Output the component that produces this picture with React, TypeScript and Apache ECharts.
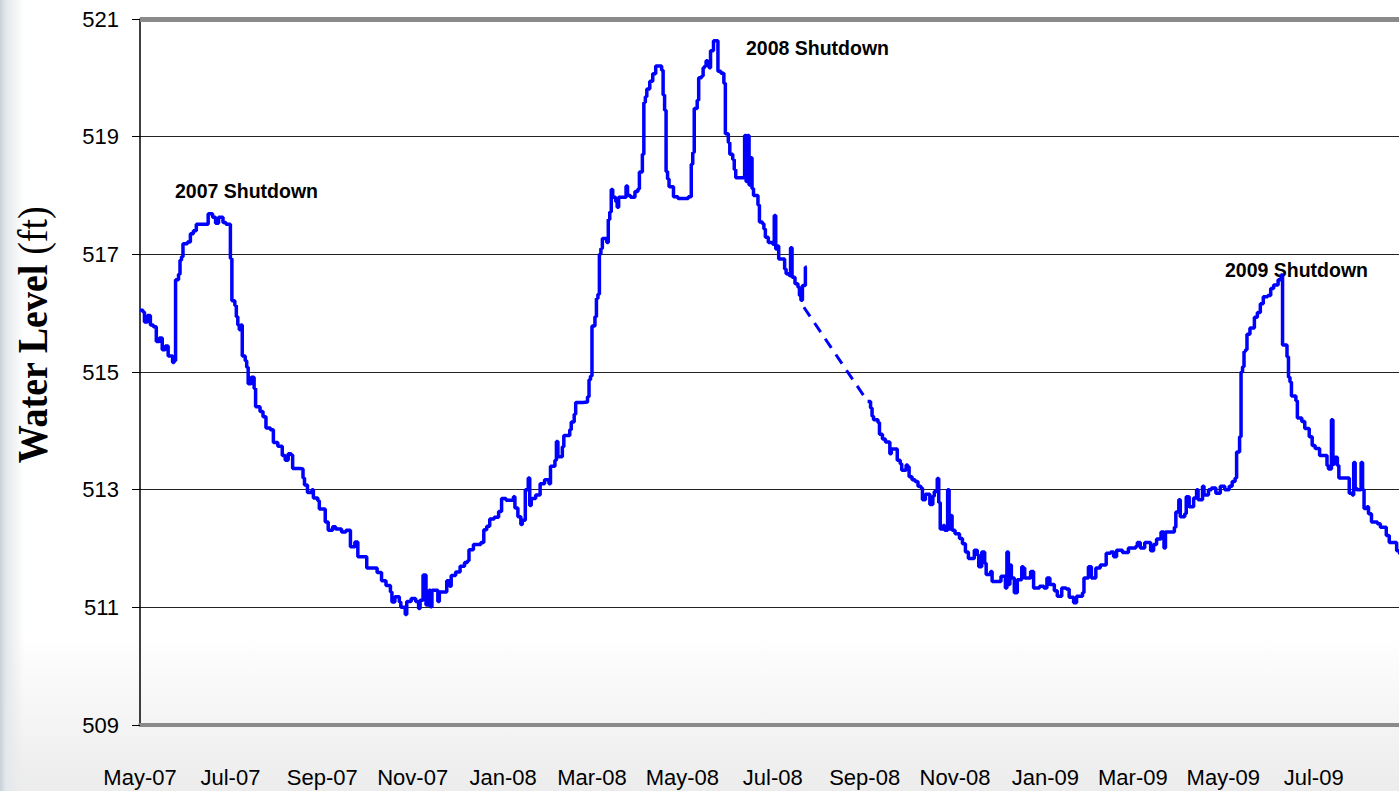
import React, { useEffect, useRef } from 'react';
import * as echarts from 'echarts';

// Water level readings (ft)
const dates: string[] = [
  '2007-05-01','2007-05-03','2007-05-04','2007-05-06','2007-05-08','2007-05-10','2007-05-12','2007-05-14','2007-05-16','2007-05-18',
  '2007-05-20','2007-05-23','2007-05-24','2007-05-25','2007-05-27','2007-05-28','2007-05-29','2007-05-30','2007-06-02','2007-06-04',
  '2007-06-06','2007-06-08','2007-06-15','2007-06-16','2007-06-19','2007-06-21','2007-06-23','2007-06-26','2007-06-28','2007-07-01',
  '2007-07-02','2007-07-04','2007-07-05','2007-07-06','2007-07-07','2007-07-08','2007-07-09','2007-07-11','2007-07-12','2007-07-13',
  '2007-07-15','2007-07-17','2007-07-18','2007-07-21','2007-07-23','2007-07-25','2007-07-28','2007-07-30','2007-08-02','2007-08-05',
  '2007-08-07','2007-08-09','2007-08-11','2007-08-12','2007-08-17','2007-08-19','2007-08-20','2007-08-22','2007-08-25','2007-08-26',
  '2007-08-29','2007-08-30','2007-09-02','2007-09-03','2007-09-05','2007-09-08','2007-09-10','2007-09-14','2007-09-17','2007-09-20',
  '2007-09-23','2007-09-25','2007-09-30','2007-10-01','2007-10-05','2007-10-08','2007-10-11','2007-10-14','2007-10-17','2007-10-18',
  '2007-10-20','2007-10-23','2007-10-24','2007-10-27','2007-10-28','2007-10-31','2007-11-03','2007-11-05','2007-11-06','2007-11-08',
  '2007-11-10','2007-11-12','2007-11-13','2007-11-14','2007-11-18','2007-11-19','2007-11-23','2007-11-24','2007-11-26','2007-11-27',
  '2007-11-30','2007-12-03','2007-12-06','2007-12-08','2007-12-09','2007-12-12','2007-12-17','2007-12-19','2007-12-21','2007-12-23',
  '2007-12-26','2007-12-29','2007-12-31','2008-01-03','2008-01-08','2008-01-09','2008-01-11','2008-01-13','2008-01-14','2008-01-16',
  '2008-01-18','2008-01-19','2008-01-20','2008-01-23','2008-01-26','2008-01-29','2008-02-01','2008-02-02','2008-02-05','2008-02-06',
  '2008-02-07','2008-02-10','2008-02-11','2008-02-15','2008-02-16','2008-02-18','2008-02-19','2008-02-24','2008-02-27','2008-02-28',
  '2008-02-29','2008-03-01','2008-03-03','2008-03-04','2008-03-05','2008-03-06','2008-03-07','2008-03-08','2008-03-11','2008-03-12',
  '2008-03-13','2008-03-14','2008-03-15','2008-03-17','2008-03-18','2008-03-19','2008-03-21','2008-03-24','2008-03-25','2008-03-27',
  '2008-03-30','2008-04-01','2008-04-02','2008-04-04','2008-04-05','2008-04-06','2008-04-07','2008-04-09','2008-04-11','2008-04-13',
  '2008-04-16','2008-04-17','2008-04-18','2008-04-19','2008-04-20','2008-04-21','2008-04-22','2008-04-25','2008-04-28','2008-05-01',
  '2008-05-05','2008-05-06','2008-05-07','2008-05-08','2008-05-09','2008-05-11','2008-05-12','2008-05-14','2008-05-15','2008-05-16',
  '2008-05-17','2008-05-18','2008-05-19','2008-05-20','2008-05-21','2008-05-22','2008-05-24','2008-05-25','2008-05-27','2008-05-29',
  '2008-05-30','2008-06-01','2008-06-02','2008-06-04','2008-06-05','2008-06-06','2008-06-11','2008-06-12','2008-06-13','2008-06-14',
  '2008-06-15','2008-06-16','2008-06-17','2008-06-18','2008-06-21','2008-06-22','2008-06-24','2008-06-25','2008-06-26','2008-06-28',
  '2008-07-01','2008-07-02','2008-07-03','2008-07-04','2008-07-05','2008-07-08','2008-07-09','2008-07-10','2008-07-12','2008-07-13',
  '2008-07-14','2008-07-16','2008-07-18','2008-07-19','2008-07-20','2008-07-21','2008-07-23','2008-07-24',
  '2008-09-03','2008-09-05','2008-09-06','2008-09-07','2008-09-10','2008-09-11','2008-09-13','2008-09-15','2008-09-18','2008-09-19',
  '2008-09-22','2008-09-23','2008-09-25','2008-09-26','2008-09-29','2008-09-30','2008-10-01','2008-10-03','2008-10-05','2008-10-07',
  '2008-10-09','2008-10-10','2008-10-12','2008-10-15','2008-10-17','2008-10-18','2008-10-20','2008-10-21','2008-10-22','2008-10-24',
  '2008-10-25','2008-10-27','2008-10-28','2008-10-29','2008-10-30','2008-11-01','2008-11-04','2008-11-06','2008-11-08','2008-11-10',
  '2008-11-14','2008-11-16','2008-11-17','2008-11-19','2008-11-21','2008-11-22','2008-11-25','2008-11-26','2008-12-01','2008-12-02',
  '2008-12-04','2008-12-05','2008-12-06','2008-12-07','2008-12-08','2008-12-09','2008-12-11','2008-12-13','2008-12-16','2008-12-17',
  '2008-12-18','2008-12-21','2008-12-22','2008-12-24','2008-12-28','2008-12-31','2009-01-02','2009-01-04','2009-01-07','2009-01-09',
  '2009-01-12','2009-01-15','2009-01-17','2009-01-20','2009-01-22','2009-01-26','2009-01-27','2009-01-30','2009-02-01','2009-02-04',
  '2009-02-07','2009-02-11','2009-02-14','2009-02-16','2009-02-18','2009-02-22','2009-02-26','2009-03-03','2009-03-04','2009-03-06',
  '2009-03-09','2009-03-13','2009-03-15','2009-03-17','2009-03-20','2009-03-22','2009-03-23','2009-03-28','2009-03-29','2009-03-30',
  '2009-04-01','2009-04-02','2009-04-05','2009-04-06','2009-04-08','2009-04-11','2009-04-13','2009-04-14','2009-04-17','2009-04-18',
  '2009-04-21','2009-04-23','2009-04-26','2009-04-29','2009-05-02','2009-05-05','2009-05-07','2009-05-09','2009-05-10','2009-05-12',
  '2009-05-13','2009-05-14','2009-05-15','2009-05-16','2009-05-17','2009-05-19','2009-05-22','2009-05-24','2009-05-26','2009-05-28',
  '2009-05-31','2009-06-02','2009-06-04','2009-06-07','2009-06-09','2009-06-10','2009-06-13','2009-06-14','2009-06-15','2009-06-16',
  '2009-06-19','2009-06-20','2009-06-23','2009-06-25','2009-06-28','2009-06-30','2009-07-02','2009-07-05','2009-07-10','2009-07-11',
  '2009-07-13','2009-07-14','2009-07-15','2009-07-17','2009-07-18','2009-07-22','2009-07-25','2009-07-27','2009-07-28','2009-07-29',
  '2009-07-30','2009-08-02','2009-08-03','2009-08-04','2009-08-06','2009-08-07','2009-08-09','2009-08-13','2009-08-15','2009-08-19',
  '2009-08-21','2009-08-26','2009-08-28',
];

const levels: (number | null)[] = [
  516.05,516.02,515.85,515.96,515.80,515.77,515.52,515.58,515.38,515.44,
  515.27,515.16,515.19,516.57,516.66,516.90,516.96,517.18,517.21,517.35,
  517.40,517.51,517.51,517.69,517.63,517.53,517.63,517.54,517.51,516.93,
  516.21,516.13,515.94,515.80,515.72,515.80,515.27,515.19,515.08,514.80,
  514.91,514.72,514.41,514.33,514.24,514.05,514.02,513.80,513.74,513.58,
  513.50,513.61,513.59,513.36,513.35,513.20,513.08,512.95,513.00,512.86,
  512.81,512.67,512.67,512.45,512.31,512.37,512.33,512.28,512.31,512.03,
  512.11,511.86,511.86,511.67,511.67,511.59,511.45,511.37,511.26,511.09,
  511.18,511.09,511.00,510.88,511.10,511.15,511.10,510.98,511.12,511.55,
  511.04,511.29,511.01,511.29,511.10,511.26,511.26,511.45,511.36,511.54,
  511.60,511.70,511.76,511.79,511.98,512.07,512.10,512.32,512.38,512.50,
  512.53,512.63,512.85,512.82,512.88,512.69,512.54,512.41,512.48,513.00,
  513.20,512.73,512.85,512.91,513.10,513.17,513.10,513.40,513.50,513.82,
  513.56,513.73,513.92,514.02,514.15,514.28,514.48,514.49,514.58,514.87,
  514.93,515.78,515.94,516.25,516.32,517.00,517.10,517.27,517.20,517.59,
  517.72,518.10,517.97,517.90,517.80,517.97,517.97,518.16,518.00,517.97,
  518.07,518.11,518.40,518.70,519.58,519.68,519.81,519.94,520.07,520.20,
  520.20,520.13,519.71,519.45,518.41,518.28,518.15,517.98,517.95,517.95,
  517.98,517.98,518.53,518.73,519.48,519.62,520.00,520.03,520.17,520.20,
  520.29,520.26,520.17,520.46,520.46,520.63,520.63,520.11,520.08,519.91,
  519.05,518.90,518.70,518.61,518.44,518.30,518.30,519.02,518.24,519.02,
  518.18,518.64,518.12,518.00,517.84,517.55,517.52,517.43,517.29,517.20,
  517.17,517.66,517.09,517.14,516.92,516.92,516.75,516.67,516.64,517.11,
  516.61,516.50,516.44,516.30,516.22,516.47,516.78,null,
  514.50,514.39,514.25,514.19,514.14,513.94,513.86,513.81,513.61,513.69,
  513.69,513.50,513.44,513.33,513.42,513.39,513.22,513.17,513.14,513.06,
  513.03,512.83,512.92,512.75,512.89,512.97,513.19,512.78,512.33,512.39,
  512.31,513.00,512.33,512.56,512.31,512.25,512.17,512.08,511.94,511.83,
  511.97,511.89,511.69,511.94,511.75,511.56,511.61,511.44,511.44,511.53,
  511.53,511.33,511.94,511.39,511.72,511.50,511.25,511.47,511.69,511.67,
  511.50,511.50,511.61,511.33,511.36,511.33,511.50,511.39,511.28,511.19,
  511.33,511.31,511.17,511.08,511.19,511.25,511.50,511.69,511.50,511.67,
  511.72,511.92,511.94,511.86,511.97,511.93,512.01,512.04,512.10,512.01,
  512.10,511.96,512.07,512.16,512.28,512.01,512.28,512.28,512.36,512.62,
  512.83,512.54,512.59,512.88,512.71,512.86,513.00,512.83,513.06,512.91,
  513.00,513.03,512.94,513.06,513.00,513.06,513.14,513.20,513.64,513.90,
  515.00,515.09,515.35,515.38,515.64,515.75,515.93,516.01,516.16,516.28,
  516.30,516.42,516.48,516.57,516.65,515.46,515.26,514.91,514.83,514.59,
  514.51,514.22,514.16,514.04,513.90,513.75,513.70,513.58,513.41,513.35,
  514.19,513.43,513.55,513.41,513.20,513.20,512.94,512.91,513.46,513.03,
  513.00,513.46,513.00,512.68,512.71,512.59,512.45,512.42,512.36,512.22,
  512.10,511.96,511.90,
];

// Estimated (missing-data) segment, drawn dashed
const gapDates: string[] = ['2008-07-22', '2008-09-03'];
const gapLevels: number[] = [516.10, 514.50];

const xTickDates: string[] = [
  '2007-05-01','2007-07-01','2007-09-01','2007-11-01','2008-01-01','2008-03-01','2008-05-01',
  '2008-07-01','2008-09-01','2008-11-01','2009-01-01','2009-03-01','2009-05-01','2009-07-01',
];
const xTickLabels: string[] = [
  'May-07','Jul-07','Sep-07','Nov-07','Jan-08','Mar-08','May-08',
  'Jul-08','Sep-08','Nov-08','Jan-09','Mar-09','May-09','Jul-09',
];

const annotations: string[] = ['2007 Shutdown', '2008 Shutdown', '2009 Shutdown'];
const yTitleMain = 'Water Level';
const yTitleUnit = '(ft)';

const toTime = (s: string) => {
  const [y, m, d] = s.split('-').map(Number);
  return new Date(y, m - 1, d).getTime();
};

const tickFont = "'Liberation Sans', Arial, sans-serif";
const serifFont = "'Liberation Serif', 'Times New Roman', serif";

export default function App() {
  const ref = useRef<HTMLDivElement>(null);

  useEffect(() => {
    if (!ref.current) return;
    const chart = echarts.init(ref.current, null, { renderer: 'svg' });
    const tickTimes = xTickDates.map(toTime);
    const seriesData = dates.map((d, i) => [toTime(d), levels[i] === null ? '-' : levels[i]]);
    const gapData = gapDates.map((d, i) => [toTime(d), gapLevels[i]]);

    chart.setOption({
      animation: false,
      backgroundColor: 'transparent',
      grid: { left: 140, right: 0, top: 19, bottom: 66, containLabel: false },
      xAxis: {
        type: 'value',
        min: toTime('2007-05-01'),
        max: toTime('2009-08-27') + 14 * 3600 * 1000,
        axisLine: { show: true, onZero: false, lineStyle: { color: '#8a8a8a', width: 4 } },
        axisTick: { show: false },
        splitLine: { show: false },
        axisLabel: {
          customValues: tickTimes,
          formatter: (v: number) => {
            let best = 0;
            for (let i = 1; i < tickTimes.length; i++) {
              if (Math.abs(tickTimes[i] - v) < Math.abs(tickTimes[best] - v)) best = i;
            }
            return xTickLabels[best];
          },
          margin: 41,
          fontSize: 22,
          color: '#000',
          fontFamily: tickFont,
          hideOverlap: false,
          showMinLabel: true,
        },
      },
      yAxis: {
        type: 'value',
        min: 509,
        max: 521,
        interval: 2,
        axisLine: { show: true, lineStyle: { color: '#000', width: 1.5 } },
        axisTick: { show: true, length: 8, lineStyle: { color: '#000', width: 1 } },
        axisLabel: { margin: 21, fontSize: 22, color: '#000', fontFamily: tickFont },
        splitLine: { show: true, lineStyle: { color: '#222', width: 1 } },
      },
      series: [
        {
          type: 'line',
          data: seriesData,
          showSymbol: false,
          symbol: 'none',
          step: 'end',
          connectNulls: false,
          lineStyle: { color: '#0000ff', width: 3.5 },
          z: 3,
          markLine: {
            silent: true,
            symbol: 'none',
            label: { show: false },
            lineStyle: { color: '#8a8a8a', width: 5, type: 'solid' },
            data: [{ yAxis: 521 }],
          },
        },
        {
          type: 'line',
          data: gapData,
          showSymbol: false,
          symbol: 'none',
          lineStyle: { color: '#0000ff', width: 3, type: [11, 8] },
          z: 3,
        },
      ],
      graphic: [
        {
          type: 'text', x: 246.5, y: 190.5,
          style: { text: annotations[0], fontFamily: tickFont, fontWeight: 'bold', fontSize: 19.5, fill: '#000', align: 'center', verticalAlign: 'middle' },
        },
        {
          type: 'text', x: 817.5, y: 47.5,
          style: { text: annotations[1], fontFamily: tickFont, fontWeight: 'bold', fontSize: 19.5, fill: '#000', align: 'center', verticalAlign: 'middle' },
        },
        {
          type: 'text', x: 1296.5, y: 270,
          style: { text: annotations[2], fontFamily: tickFont, fontWeight: 'bold', fontSize: 19.5, fill: '#000', align: 'center', verticalAlign: 'middle' },
        },
        {
          type: 'text', x: 33, y: 335, rotation: Math.PI / 2, scaleY: 1.1,
          style: {
            text: '{a|' + yTitleMain + '}{b| ' + yTitleUnit + '}',
            fill: '#000',
            align: 'center',
            verticalAlign: 'middle',
            rich: {
              a: { fontFamily: serifFont, fontWeight: 'bold', fontSize: 38, fill: '#000' },
              b: { fontFamily: serifFont, fontWeight: 'normal', fontSize: 38, fill: '#000' },
            },
          },
        },
      ],
    });
    return () => chart.dispose();
  }, []);

  return (
    <div
      ref={ref}
      style={{
        position: 'fixed',
        left: 0,
        top: 0,
        width: 1399,
        height: 791,
        background:
          'linear-gradient(to right, #c8d0d8 0px, #e4e8ec 6px, rgba(255,255,255,0) 24px), linear-gradient(to bottom, #ffffff 0%, #ffffff 80%, #ececec 100%)',
      }}
    />
  );
}
